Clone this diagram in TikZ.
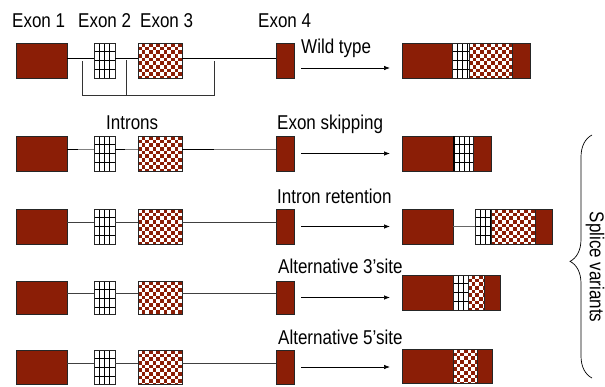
\documentclass[tikz,border=0pt]{standalone}
\usepackage{fontspec}
\setmainfont{Liberation Sans}[FakeStretch=0.85]
\usetikzlibrary{arrows.meta,decorations.pathreplacing}
\definecolor{exred}{RGB}{139,30,6}
\tikzset{
  box/.style={rectangle, draw=black!85, line width=0.8pt, inner sep=0pt, outer sep=0pt},
  boxline/.style={draw=black!85, line width=0.8pt},
  gl/.style={black, line width=0.7pt},
  exA/.style={box, fill=exred},
  exB/.style={box, fill=white},
  exC/.style={box, fill=exred},
  lbl/.style={anchor=base west, inner sep=0pt, font=\fontsize{20}{24}\selectfont},
  intr/.style={line width=0.8pt, draw=#1},
  arr/.style={-{Latex[length=6pt,width=4.5pt]}, line width=0.7pt, shorten <=7pt, shorten >=12pt},
}
\newcommand\ex[6]{\node[#2, minimum width={#5-(#3)}, minimum height={#6-(#4)}] (#1) at ({(#3+#5)/2},{(#4+#6)/2}) {};}
\newcommand\exa[5]{\ex{#1}{exA}{#2}{#3}{#4}{#5}}
\newcommand\exb[5]{\ex{#1}{exB}{#2}{#3}{#4}{#5}%
  \begin{scope}
    \clip (#2,#3) rectangle (#4,#5);
    \foreach \k in {1,...,5}{\draw[gl] ({#2+\k*5.25},#3) -- ({#2+\k*5.25},#5);}
    \foreach \k in {1,2,3}{\draw[gl] (#2,{#3+\k*8.7}) -- (#4,{#3+\k*8.7});}
  \end{scope}
  \draw[boxline] (#1.north west) rectangle (#1.south east);}
\newcommand\exc[5]{\ex{#1}{exC}{#2}{#3}{#4}{#5}%
  \begin{scope}
    \clip (#2,#3) rectangle (#4,#5);
    \foreach \r in {0,...,10}{\foreach \c in {0,2,...,14}{%
      \fill[white] ({#2+(\c+mod(\r,2))*3.65},{#3+\r*3.65}) rectangle ++(3.65,3.65);}}
  \end{scope}
  \draw[boxline] (#1.north west) rectangle (#1.south east);}
\newcommand\gene[3]{%
  \exa{g#11}{16}{#2}{67}{#3}
  \exb{g#12}{94}{#2}{115}{#3}
  \exc{g#13}{138}{#2}{182}{#3}
  \exa{g#14}{276}{#2}{294}{#3}}
\newcommand\introns[3]{%
  \draw[intr=#3] ([yshift=#2]g#11.east) -- ([yshift=#2]g#12.west)
    ([yshift=#2]g#12.east) -- ([yshift=#2]g#13.west)
    ([yshift=#2]g#13.east) -- ([yshift=#2]g#14.west);}
\begin{document}
\begin{tikzpicture}[x=1pt, y=-1pt]
\useasboundingbox (0,0) rectangle (605,386);
% labels
\node[lbl] (l1) at (12,27) {Exon 1};
\node[lbl] (l2) at (78,27) {Exon 2};
\node[lbl] (l3) at (140,27) {Exon 3};
\node[lbl] (l4) at (258,27) {Exon 4};
\node[lbl] (lw) at (301,53) {Wild type};
\node[lbl] (li) at (106,129) {Introns};
\node[lbl] (ls) at (277,129) {Exon skipping};
\node[lbl] (lr) at (277,203) {Intron retention};
\node[lbl] (l3s) at (278,273) {Alternative 3’site};
\node[lbl] (l5s) at (278,344) {Alternative 5’site};
% genes
\gene{1}{43}{78}
\gene{2}{136}{171}
\gene{3}{209}{244}
\gene{4}{281}{314}
\gene{5}{350}{384}
\introns{1}{2.5}{black}
\introns{2}{4.5}{black!50}
\draw[intr=black] ([yshift=4.5]g21.east) -- ++(11,0) ([yshift=4.5]g22.east) -- ++(10,0) ([yshift=4.5]g23.east) -- ++(32,0);
\introns{3}{4.5}{black!75}
\introns{4}{4.5}{black!75}
\introns{5}{4}{black!75}
% bracket
\draw[line width=0.7pt, black!80] (82,61) -- (82,95) -- (214,95) -- (214,61) (126,60) -- (126,95);
% results
\exa{r11}{402}{43}{452}{78}
\exb{r12}{452}{43}{469}{78}
\exc{r13}{469}{43}{512}{78}
\exa{r14}{512}{43}{530}{78}
\exa{r21}{402}{136}{454}{171}
\exb{r22}{454}{136}{473}{171}
\exa{r24}{473}{136}{491}{171}
\draw[line width=2.4pt] (r22.north west) -- (r22.south west);
\exa{r31}{402}{209}{453}{244}
\exb{r32}{475}{209}{491}{244}
\exc{r33}{491}{209}{535}{244}
\exa{r34}{535}{209}{552}{244}
\draw[intr=black!60] (r31.east) -- (r32.west);
\exa{r41}{402}{275}{453}{310}
\exb{r42}{453}{275}{468}{310}
\exc{r43}{468}{275}{484}{310}
\exa{r44}{484}{275}{500}{310}
\exa{r51}{402}{349}{453}{383}
\exc{r53}{453}{349}{477}{383}
\exa{r54}{477}{349}{492}{383}
% arrows
\draw[arr] ([yshift=-7.5]g14.east) -- ([yshift=-7.5]g14.east -| r11.west);
\draw[arr] (g24.east) -- (g24.east -| r21.west);
\draw[arr] (g34.east) -- (g34.east -| r31.west);
\draw[arr] (g44.east) -- (g44.east -| r41.west);
\draw[arr] (g54.east) -- (g54.east -| r51.west);
% brace
\coordinate (bb) at (592,378);
\coordinate (bt) at (592,135);
\draw[decorate, decoration={brace, amplitude=22pt, aspect=0.48}, line width=0.7pt] (bb) -- (bt);
\node[lbl, anchor=center, rotate=-90] (sv) at (595,267) {Splice variants};
\end{tikzpicture}
\end{document}
